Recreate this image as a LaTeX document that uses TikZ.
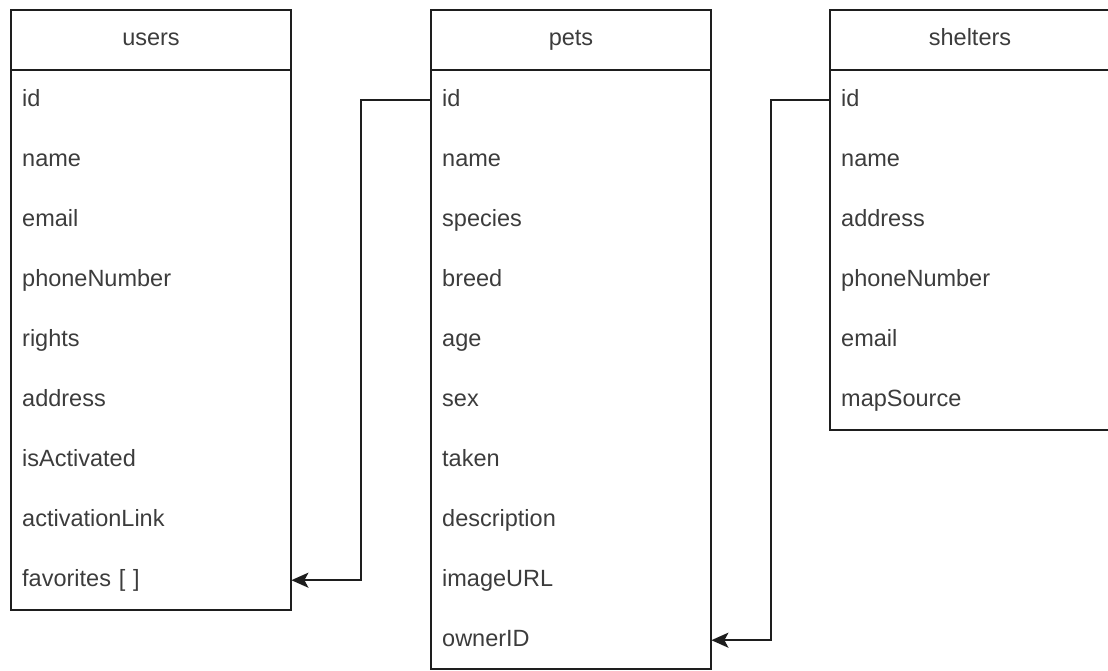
\documentclass[tikz,border=0pt]{standalone}
\usepackage{fontspec}
\setmainfont{Liberation Sans}
\usetikzlibrary{arrows.meta}
\definecolor{edge}{RGB}{30,30,30}
\definecolor{ink}{RGB}{60,60,60}
\begin{document}
\begin{tikzpicture}[x=1pt,y=-1pt,
  every node/.style={font=\fontsize{23.5}{28}\selectfont, text=ink},
  tablehead/.style={draw=edge, line width=2.2pt, minimum width=280pt, minimum height=60pt,
    inner sep=0pt, text height=17pt, text depth=5pt},
  tablebody/.style={draw=edge, line width=2.2pt},
  field/.style={anchor=north west, minimum width=280pt, minimum height=60pt,
    inner xsep=11pt, inner ysep=0pt, text width=258pt, align=left,
    text height=17pt, text depth=5pt},
  conn/.style={draw=edge, line width=2.2pt, -{Stealth[length=17pt,width=15pt,inset=4pt]}}]
\useasboundingbox (0,0) rectangle (1108,671);
\clip (0,0) rectangle (1108,671);

% users table
\node[tablehead] (users) at (151,40) {users};
\draw[tablebody] (11,70) rectangle (291,610);
\foreach \f/\t [count=\i from 0] in {id/id,name/name,email/email,phone/phoneNumber,rights/rights,
    address/address,active/isActivated,link/activationLink,favorites/{favorites [ ]}}
  \node[field] (users-\f) at (11,70+60*\i) {\t};

% pets table
\node[tablehead] (pets) at (571,40) {pets};
\draw[tablebody] (431,70) rectangle (711,669);
\foreach \f [count=\i from 0] in {id,name,species,breed,age,sex,taken,description,imageURL,ownerID}
  \node[field] (pets-\f) at (431,70+60*\i) {\f};

% shelters table (runs past the right margin)
\node[tablehead] (shelters) at (970,40) {shelters};
\draw[tablebody] (830,70) rectangle (1110,430);
\foreach \f [count=\i from 0] in {id,name,address,phoneNumber,email,mapSource}
  \node[field] (shelters-\f) at (830,70+60*\i) {\f};

% relations
\coordinate (bendA) at ([xshift=-70pt]pets-id.west);
\coordinate (bendB) at ([xshift=-59pt]shelters-id.west);
\draw[conn] (pets-id.west) -- (bendA) |- (users-favorites.east);
\draw[conn] (shelters-id.west) -- (bendB) |- (pets-ownerID.east);
\end{tikzpicture}
\end{document}
